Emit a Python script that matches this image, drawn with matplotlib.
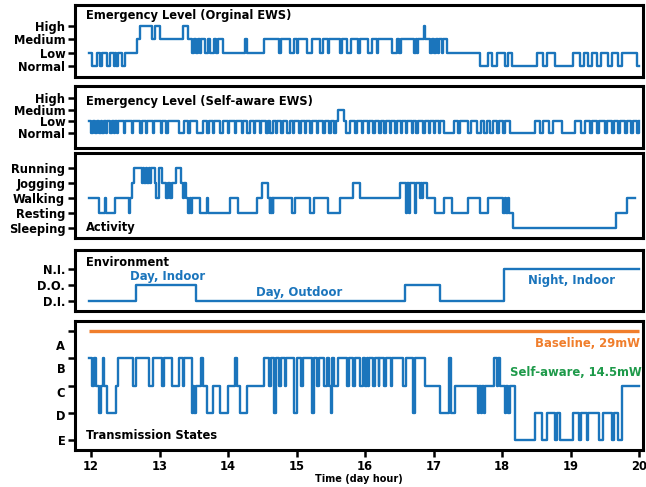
import matplotlib
matplotlib.use("Agg")
import matplotlib.pyplot as plt

plt.rcParams['font.family'] = ['DejaVu Sans']
plt.rcParams['font.weight'] = 'bold'

BLUE = '#1b75bc'
ORANGE = '#f07e2c'
GREEN = '#1e9a4a'

# ---------------- data ----------------
x_ticks = [12, 13, 14, 15, 16, 17, 18, 19, 20]

ews_levels = ['Normal', 'Low', 'Medium', 'High']
act_levels = ['Sleeping', 'Resting', 'Walking', 'Jogging', 'Running']
env_levels = ['D.I.', 'D.O.', 'N.I.']
tx_labels = ['E', 'D', 'C', 'B', 'A']

# Emergency level, original EWS (change times, level index)
eo_t = [11.97, 12.01, 12.08, 12.13, 12.16, 12.23, 12.28, 12.33, 12.35, 12.37, 12.40, 12.45, 12.50,
        12.67, 12.71, 12.89, 12.93, 13.01, 13.34, 13.42, 13.48, 13.50, 13.53, 13.56, 13.59, 13.61,
        13.66, 13.71, 13.74, 13.79, 13.82, 13.85, 13.93, 14.25, 14.27, 14.52,
        14.74, 14.77, 14.90, 14.97, 15.00, 15.02, 15.15, 15.22, 15.34, 15.39, 15.46, 15.48, 15.63,
        15.66, 15.73, 15.80, 15.90, 15.92, 16.05, 16.10, 16.17, 16.19, 16.39, 16.46, 16.50, 16.52,
        16.71, 16.74, 16.76, 16.78, 16.86, 16.88, 16.95, 16.98, 17.00, 17.03, 17.06, 17.08, 17.12,
        17.14, 17.19,
        17.68, 17.80, 17.85, 17.92, 18.04, 18.09, 18.14, 18.51, 18.60, 18.65, 18.77, 19.04, 19.14,
        19.19, 19.26, 19.31, 19.38, 19.45, 19.55, 19.60, 19.70, 19.75, 19.97, 20.00]
eo_v = [1, 0, 1, 0, 1, 0, 1, 0, 1, 0, 1, 0, 1,
        2, 3, 2, 3, 2, 3, 2, 1, 2, 1, 2, 1, 2,
        1, 2, 1, 2, 1, 2, 1, 2, 1, 2,
        1, 2, 1, 2, 1, 2, 1, 2, 1, 2, 1, 2, 1,
        2, 1, 2, 1, 2, 1, 2, 1, 2, 1, 2, 1, 2,
        1, 2, 1, 2, 3, 2, 1, 2, 1, 2, 1, 2, 1,
        2, 1,
        0, 1, 0, 1, 0, 1, 0, 1, 0, 1, 0, 1, 0,
        1, 0, 1, 0, 1, 0, 1, 0, 1, 0, 0]

# Emergency level, self-aware EWS: Low baseline with dips to Normal and one Medium spike
sa_start = 11.97
sa_end = 20.0
sa_dip_start = [12.00, 12.06, 12.12, 12.16, 12.22, 12.27, 12.33, 12.38, 12.48, 12.60, 12.72, 12.80,
                12.90, 13.02, 13.10, 13.28, 13.42, 13.55, 13.70, 13.78, 13.88, 14.00, 14.10, 14.20,
                14.28, 14.38, 14.46, 14.56, 14.62, 14.70, 14.78, 14.86, 14.95, 15.03, 15.12, 15.20,
                15.30, 15.38, 15.48, 15.55, 15.72, 15.86, 15.95, 16.04, 16.12, 16.20, 16.28, 16.36,
                16.44, 16.52, 16.60, 16.68, 16.75, 16.85, 16.93, 17.00, 17.08, 17.16, 17.36, 17.51,
                17.64, 17.74, 17.83, 17.92, 18.01, 18.12, 18.56, 18.68, 18.87, 19.16, 19.28, 19.38,
                19.50, 19.60, 19.70, 19.79, 19.89, 19.97]
sa_dip_end = [12.03, 12.09, 12.14, 12.19, 12.24, 12.30, 12.35, 12.40, 12.50, 12.62, 12.74, 12.82,
              12.92, 13.04, 13.12, 13.36, 13.44, 13.63, 13.72, 13.80, 13.92, 14.02, 14.12, 14.22,
              14.32, 14.40, 14.48, 14.58, 14.65, 14.72, 14.80, 14.90, 14.97, 15.06, 15.14, 15.23,
              15.32, 15.42, 15.50, 15.57, 15.78, 15.88, 15.97, 16.06, 16.14, 16.23, 16.30, 16.38,
              16.47, 16.54, 16.62, 16.70, 16.77, 16.87, 16.95, 17.02, 17.10, 17.30, 17.38, 17.55,
              17.69, 17.78, 17.87, 17.96, 18.04, 18.48, 18.60, 18.74, 19.07, 19.21, 19.31, 19.41,
              19.53, 19.63, 19.72, 19.82, 19.91, 20.00]
sa_spike = [15.60, 15.70]

# Activity
act_t = [11.97, 12.12, 12.20, 12.22, 12.35, 12.55, 12.57, 12.60, 12.63, 12.74, 12.76, 12.78, 12.80,
         12.82, 12.84, 12.86, 12.87, 12.93, 12.95, 12.99, 13.04, 13.10, 13.12, 13.16, 13.18, 13.24,
         13.32, 13.34, 13.36, 13.38, 13.42, 13.44, 13.46, 13.48, 13.59, 13.69, 13.71, 14.03, 14.14,
         14.42, 14.49, 14.59, 14.61, 14.62, 14.63, 14.64, 14.65, 14.66, 14.93, 14.98, 15.20, 15.25,
         15.46, 15.63, 15.83, 15.93, 16.51, 16.60, 16.62, 16.64, 16.66, 16.73, 16.74, 16.80, 16.81,
         16.83, 16.84, 16.90, 17.02, 17.15, 17.27, 17.51, 17.68, 17.80, 18.02, 18.04, 18.06, 18.08,
         18.10, 18.12, 18.16, 19.67, 19.82, 19.94]
act_v = [2, 1, 2, 1, 2, 1, 2, 3, 4, 3, 4, 3, 4,
         3, 4, 3, 4, 3, 2, 4, 3, 2, 3, 2, 3, 4,
         3, 2, 3, 2, 1, 2, 1, 2, 1, 2, 1, 2, 1,
         2, 3, 2, 1, 2, 1, 2, 1, 2, 1, 2, 1, 2,
         1, 2, 3, 2, 3, 1, 3, 1, 3, 1, 3, 2, 3,
         2, 3, 2, 1, 2, 1, 2, 1, 2, 1, 2, 1, 2,
         1, 1, 0, 1, 2, 2]

# Environment
env_t = [11.97, 12.65, 13.53, 16.58, 17.10, 18.03, 20.00]
env_v = [0, 1, 0, 1, 0, 2, 2]

# Transmission states (E=0 ... B=3), baseline at the top tick
tx_t = [11.97, 12.01, 12.05, 12.07, 12.12, 12.15, 12.17, 12.19, 12.23, 12.36, 12.40,
        12.62, 12.66, 12.85, 12.90, 13.03, 13.06, 13.18, 13.28, 13.34, 13.36, 13.47,
        13.49, 13.51, 13.53, 13.60, 13.63, 13.70, 13.78, 13.88, 14.00, 14.10, 14.13, 14.18, 14.27,
        14.52, 14.60, 14.63, 14.67, 14.70, 14.75, 14.78, 14.83, 14.85, 14.97, 15.00, 15.07, 15.10,
        15.22, 15.26, 15.30, 15.33, 15.40, 15.44,
        15.47, 15.50, 15.52, 15.55, 15.60, 15.73, 15.77, 15.83, 15.86, 15.93, 15.97, 16.00, 16.03,
        16.05, 16.06, 16.12, 16.15, 16.20, 16.21, 16.27, 16.30, 16.38, 16.40, 16.55, 16.60, 16.70,
        16.73, 16.87, 17.10, 17.22, 17.26, 17.31,
        17.65, 17.67, 17.69, 17.71, 17.73, 17.75, 17.89, 17.92, 17.94, 17.97, 18.04, 18.06, 18.09,
        18.12, 18.19, 18.48, 18.58, 18.65, 18.77, 18.80, 18.85, 19.04, 19.12, 19.16, 19.24, 19.26,
        19.41, 19.48, 19.60, 19.63, 19.70, 19.75, 20.00]
tx_v = [3, 2, 3, 2, 1, 2, 3, 2, 1, 2, 3,
        2, 3, 2, 3, 2, 3, 2, 3, 2, 3, 1,
        2, 1, 2, 3, 2, 1, 2, 1, 2, 3, 2, 1, 2,
        3, 2, 3, 1, 3, 2, 3, 2, 3, 1, 3, 2, 3,
        1, 3, 2, 3, 2, 3,
        2, 1, 3, 2, 3, 2, 3, 2, 3, 2, 3, 2, 3,
        2, 3, 2, 3, 2, 3, 2, 3, 2, 3, 2, 3, 1,
        3, 2, 1, 3, 1, 2,
        1, 2, 1, 2, 1, 2, 3, 2, 3, 2, 1, 2, 1,
        2, 0, 1, 0, 1, 0, 1, 0, 1, 0, 1, 0, 1,
        0, 1, 0, 1, 0, 2, 2]
baseline_t = [11.97, 20.0]
baseline_v = [4, 4]

# ---------------- build self-aware step series ----------------
events = [(s, 0) for s in sa_dip_start] + [(e, 1) for e in sa_dip_end]
events += [(sa_spike[0], 2), (sa_spike[1], 1)]
events.sort()
sa_t = [sa_start] + [e[0] for e in events]
sa_v = [1] + [e[1] for e in events]

# ---------------- figure ----------------
W, H = 646, 487
fig = plt.figure(figsize=(W / 100, H / 100), dpi=100)
fig.patch.set_facecolor('white')

def px_axes(top, bottom, left=75, right=643):
    return fig.add_axes([left / W, 1 - bottom / H, (right - left) / W, (bottom - top) / H])

XL = (11.766, 20.058)
lw_frame = 2.2
line_lw = 1.7
TICK_FS = 8.3
TITLE_FS = 8.3
LAB_FS = 8.4
TX = (86 - 75) / 568

def style(ax, ylim, ticks, labels):
    ax.set_xlim(*XL)
    ax.set_ylim(*ylim)
    ax.set_yticks(ticks)
    ax.set_yticklabels(labels, fontsize=TICK_FS, fontweight='bold')
    for s in ax.spines.values():
        s.set_linewidth(lw_frame)
        s.set_color('black')
    ax.tick_params(axis='y', length=5, width=1.8, pad=2)
    ax.tick_params(axis='x', bottom=False, labelbottom=False)

def title(ax, y, s):
    ax.text(TX, y, s, transform=ax.transAxes, fontsize=TITLE_FS, fontweight='bold',
            va='center', ha='left')

# panel 1
ax1 = px_axes(5, 77)
ax1.step(eo_t, eo_v, where='post', color=BLUE, lw=line_lw)
style(ax1, (-0.83, 4.59), range(4), ews_levels)
title(ax1, 0.861, 'Emergency Level (Orginal EWS)')

# panel 2
ax2 = px_axes(86, 148)
ax2.step(sa_t + [sa_end], sa_v + [sa_v[-1]], where='post', color=BLUE, lw=line_lw)
style(ax2, (-1.29, 4.03), range(4), ews_levels)
title(ax2, 0.742, 'Emergency Level (Self-aware EWS)')

# panel 3
ax3 = px_axes(153, 238)
ax3.step(act_t, act_v, where='post', color=BLUE, lw=line_lw)
style(ax3, (-0.67, 5.0), range(5), act_levels)
title(ax3, 0.118, 'Activity')

# panel 4
ax4 = px_axes(250, 311)
ax4.step(env_t, env_v, where='post', color=BLUE, lw=line_lw)
style(ax4, (-0.63, 3.19), range(3), env_levels)
title(ax4, 0.803, 'Environment')
ax4.text(13.12, 1.12, 'Day, Indoor', color=BLUE, fontsize=LAB_FS, fontweight='bold', ha='center', va='bottom')
ax4.text(15.04, 0.14, 'Day, Outdoor', color=BLUE, fontsize=LAB_FS, fontweight='bold', ha='center', va='bottom')
ax4.text(19.02, 1.25, 'Night, Indoor', color=BLUE, fontsize=LAB_FS, fontweight='bold', ha='center', va='center')

# panel 5
ax5 = px_axes(321, 450)
ax5.plot(baseline_t, baseline_v, color=ORANGE, lw=2.4, solid_capstyle='butt')
ax5.step(tx_t, tx_v, where='post', color=BLUE, lw=line_lw)
ax5.set_xlim(*XL)
ax5.set_ylim(-0.37, 4.37)
ax5.set_yticks(range(5))
ax5.set_yticklabels([tx_labels[0], '', '', '', ''], fontsize=TICK_FS, fontweight='bold')
ax5.set_yticks([0.92, 1.76, 2.64, 3.49], minor=True)
ax5.set_yticklabels(tx_labels[1:], minor=True, fontsize=TICK_FS, fontweight='bold')
ax5.tick_params(axis='y', which='major', length=5, width=1.8, pad=2)
ax5.tick_params(axis='y', which='minor', length=0, pad=7)
ax5.set_xticks(x_ticks)
ax5.set_xticklabels([str(v) for v in x_ticks], fontsize=TICK_FS, fontweight='bold')
ax5.tick_params(axis='x', length=5, width=1.8, pad=2)
for s in ax5.spines.values():
    s.set_linewidth(lw_frame)
ax5.set_xlabel('Time (day hour)', fontsize=7, fontweight='bold', labelpad=1)
title(ax5, 0.109, 'Transmission States')
ax5.text(0.995, 3.56, 'Baseline, 29mW', transform=ax5.get_yaxis_transform(), color=ORANGE,
         fontsize=LAB_FS, fontweight='bold', ha='right', va='center')
ax5.text(0.998, 2.46, 'Self-aware, 14.5mW', transform=ax5.get_yaxis_transform(), color=GREEN,
         fontsize=LAB_FS, fontweight='bold', ha='right', va='center')

fig.savefig('out.png', dpi=100, facecolor='white')
